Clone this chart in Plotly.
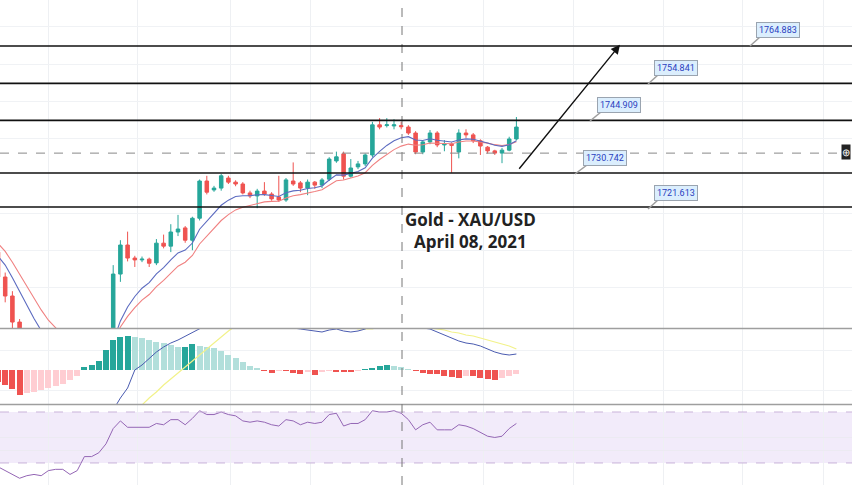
import plotly.graph_objects as go

W, H = 852, 485

opens = [1709.5,1702.8,1697.7,1690.7,1685.9,1682.0,1679.5,1677.0,1676.0,1677.5,1676.5,1678.0,1677.0,1679.0,1678.5,1680.0,
         1680.5,1703.6,1711.4,1707.9,1707.4,1707.6,1706.6,1711.9,1711.1,1714.9,1716.0,1712.7,1718.6,1728.6,1726.2,1726.7,
         1729.4,1728.3,1727.8,1725.4,1724.6,1725.9,1725.1,1724.3,1723.5,1728.6,1728.1,1726.7,1728.3,1727.5,1729.1,1734.0,
         1735.9,1729.9,1732.4,1733.2,1735.6,1743.7,1743.5,1743.4,1743.5,1743.1,1741.5,1736.4,1739.1,1741.5,1738.3,1738.5,
         1736.4,1741.5,1741.0,1739.4,1737.7,1736.7,1736.1,1736.9,1739.9]
closes = [1702.8,1697.7,1690.7,1685.9,1682.0,1679.5,1677.0,1676.0,1677.5,1676.5,1678.0,1677.0,1679.0,1678.5,1680.0,1680.5,
          1703.6,1711.4,1707.9,1707.4,1707.6,1706.5,1711.9,1711.1,1714.9,1715.7,1712.7,1718.6,1728.6,1725.6,1726.7,1730.0,
          1728.3,1727.8,1725.4,1724.6,1725.9,1725.1,1723.8,1723.5,1728.9,1727.8,1726.7,1728.3,1727.5,1728.9,1734.5,1735.1,
          1729.9,1732.1,1733.2,1735.6,1743.7,1743.1,1743.7,1743.7,1743.2,1741.5,1736.4,1739.1,1741.5,1738.3,1738.5,1738.2,
          1741.5,1741.0,1739.4,1738.0,1736.7,1736.1,1736.9,1739.9,1743.1]
highs = [1710.5,1704.0,1699.0,1691.5,1687.0,1683.0,1680.5,1678.0,1678.5,1678.5,1679.0,1679.0,1680.0,1680.0,1681.0,1681.5,
         1706.0,1712.7,1715.0,1708.5,1708.3,1708.0,1713.0,1714.2,1717.0,1719.5,1716.5,1719.0,1729.0,1730.0,1727.3,1730.5,
         1730.0,1728.8,1728.3,1726.0,1726.5,1728.3,1725.6,1730.0,1729.4,1733.6,1728.6,1729.0,1728.6,1729.4,1735.0,1736.5,
         1736.5,1734.5,1734.0,1736.0,1744.5,1745.5,1745.5,1745.2,1744.5,1743.6,1742.0,1739.5,1742.3,1742.0,1739.6,1739.0,
         1742.5,1742.5,1741.5,1739.8,1738.0,1737.0,1737.5,1740.5,1745.8]
lows = [1701.5,1696.0,1689.0,1685.0,1681.0,1678.5,1676.0,1675.0,1675.0,1675.5,1675.5,1676.0,1676.0,1677.5,1677.5,1679.0,
        1679.0,1701.5,1707.0,1705.5,1706.8,1705.5,1706.0,1710.5,1709.5,1713.8,1712.0,1710.0,1718.0,1725.0,1725.7,1726.0,
        1727.8,1727.2,1725.0,1724.0,1721.3,1724.6,1723.3,1723.0,1723.0,1727.3,1725.6,1724.8,1726.5,1726.7,1728.6,1733.5,
        1729.0,1729.5,1731.8,1732.6,1735.0,1742.5,1743.0,1742.5,1742.5,1741.0,1735.8,1735.8,1738.5,1737.7,1736.6,1730.8,
        1734.7,1740.2,1738.8,1735.6,1736.0,1735.6,1733.4,1736.6,1739.5]

macd_hist = [-12,-15,-19,-25,-23,-22,-20,-18,-16,-14,-10,-6,3,5,9,20,30,33,34,33,32,30,28,27,25,23,23,26,24,23,22,19,15,12,8,4,2,
             -1,-3,-1,-1,-3,-4,-2,-5,-2,-1,-2,-2,-2,-1,1,2,4,5,4,3,1,-1,-3,-4,-4,-6,-7,-8,-6,-6,-8,-9,-10,-8,-6,-4]
macd_line = [-80,-85,-90,-95,-100,-100,-98,-95,-90,-85,-80,-75,-70,-62,-55,-45,-40,-28,-18,0,5,12,18,23,27,30,34,38,42,45,48,50,
             52,53,53,52,51,50,48,46,44,42,41,40,39,38,40,41,39,38,39,41,45,48,50,50,49,47,44,42,41,38,35,32,29,27,26,24,21,18,16,15,16]
signal_line = [-60,-65,-70,-74,-78,-80,-82,-83,-83,-82,-80,-78,-75,-72,-68,-63,-58,-52,-46,-40,-35,-28,-22,-15,-9,-3,3,9,15,21,27,33,
               39,44,48,52,53,54,54,54,53,52,51,50,49,48,47,46,45,44,41,41,41,44,45,45,45,44,44,43,42,41,40,38,37,35,34,32,30,28,26,24,21]
rsi = [27,24,21,18,20,21,20,24,25,25,21,24,35,35,38,45,57,63,58,58,58,58,61,60,64,64,60,65,71,68,68,70,68,67,63,62,63,62,60,59,
       64,63,60,62,61,62,68,69,59,61,61,64,71,70,70,71,69,64,56,60,62,56,56,56,60,59,57,54,51,50,51,57,61]
levels = [1764.883, 1754.841, 1744.909, 1730.742, 1721.613]
level_labels = ["1764.883", "1754.841", "1744.909", "1730.742", "1721.613"]
title_lines = ["Gold - XAU/USD", "April 08, 2021"]

idx = list(range(len(closes)))

def ema(vals, n, seed):
    k = 2 / (n + 1)
    out, e = [], seed
    for v in vals:
        e = e + k * (v - e)
        out.append(e)
    return out

ema_fast = ema(closes, 8, 1710.0)
ema_slow = ema(closes, 12, 1713.5)

hist_colors = []
for i, v in enumerate(macd_hist):
    p = macd_hist[i - 1] if i else v
    if v >= 0:
        hist_colors.append("#26a69a" if v >= p else "#b2dfdb")
    else:
        hist_colors.append("#ef5350" if v <= p else "#ffcdd2")

def px2i(x):
    return (x + 2) / 7.2

fig = go.Figure()
fig.add_trace(go.Candlestick(x=idx, open=opens, high=highs, low=lows, close=closes,
                             increasing=dict(line=dict(color="#26a69a", width=1), fillcolor="#26a69a"),
                             decreasing=dict(line=dict(color="#ef5350", width=1), fillcolor="#ef5350"),
                             whiskerwidth=0, xaxis="x", yaxis="y", showlegend=False))
fig.add_trace(go.Scatter(x=idx, y=ema_slow, mode="lines", line=dict(color="#f08080", width=1.1), xaxis="x", yaxis="y", showlegend=False))
fig.add_trace(go.Scatter(x=idx, y=ema_fast, mode="lines", line=dict(color="#5c6bc0", width=1.1), xaxis="x", yaxis="y", showlegend=False))

fig.add_trace(go.Bar(x=idx, y=macd_hist, marker=dict(color=hist_colors, line=dict(width=0)), width=0.82,
                     xaxis="x", yaxis="y2", showlegend=False))
fig.add_trace(go.Scatter(x=idx, y=signal_line, mode="lines", line=dict(color="#f2f28a", width=1.2), xaxis="x", yaxis="y2", showlegend=False))
fig.add_trace(go.Scatter(x=idx, y=macd_line, mode="lines", line=dict(color="#4a5bb0", width=1), xaxis="x", yaxis="y2", showlegend=False))

fig.add_trace(go.Scatter(x=idx, y=rsi, mode="lines", line=dict(color="#9466b5", width=1), xaxis="x", yaxis="y3", showlegend=False))

xr = [px2i(0), px2i(W)]
gridx = [px2i(v) for v in (48, 137, 230, 310, 483, 573, 663, 742, 823)]

shapes = []
shapes.append(dict(type="rect", xref="paper", yref="y3", x0=0, x1=1, y0=30, y1=70,
                   fillcolor="rgba(156,102,220,0.13)", line=dict(width=0), layer="below"))
for lv in (30, 70):
    shapes.append(dict(type="line", xref="paper", yref="y3", x0=0, x1=1, y0=lv, y1=lv,
                       line=dict(color="#c9b3d9", width=1, dash="dash")))
for py in (328.5, 404.5):
    shapes.append(dict(type="line", xref="paper", yref="paper", x0=0, x1=1, y0=1 - py / H, y1=1 - py / H,
                       line=dict(color="#9e9e9e", width=1.5)))
shapes.append(dict(type="line", xref="paper", yref="paper", x0=402 / W, x1=402 / W, y0=0, y1=1,
                   line=dict(color="#777", width=1, dash="dash")))
shapes.append(dict(type="line", xref="paper", yref="y", x0=0, x1=838 / W, y0=1736.1, y1=1736.1,
                   line=dict(color="#888", width=1, dash="dash")))
for lv in levels:
    shapes.append(dict(type="line", xref="paper", yref="y", x0=0, x1=1, y0=lv, y1=lv,
                       line=dict(color="#111", width=1.6)))

label_boxes = [(778, 30, 750), (676, 68, 648), (619, 105, 590), (605, 158, 575), (676, 193, 648)]
annotations = []
for (cx, cy, lx), lv, txt in zip(label_boxes, levels, level_labels):
    shapes.append(dict(type="line", xref="paper", yref="paper", x0=(cx - 18) / W, y0=1 - (cy + 7) / H,
                       x1=lx / W, y1=1 - (cy + 16) / H, line=dict(color="#9e9e9e", width=1.5)))
    annotations.append(dict(x=cx / W, y=1 - cy / H, xref="paper", yref="paper", text=txt, showarrow=False,
                            xanchor="center", yanchor="middle",
                            font=dict(size=9, color="#2a3ebf", family="Roboto"), bgcolor="#dbeefd",
                            bordercolor="#9aa4b0", borderwidth=1, borderpad=2))

annotations.append(dict(x=px2i(620), y=1765.2, ax=px2i(518), ay=1731.5, xref="x", yref="y", axref="x", ayref="y",
                        text="", showarrow=True, arrowhead=2, arrowsize=1.3, arrowwidth=1.4, arrowcolor="#111"))
annotations.append(dict(x=470 / W, y=1 - 230 / H, xref="paper", yref="paper", xanchor="center", yanchor="middle",
                        text="<b>" + title_lines[0] + "</b><br><b>" + title_lines[1] + "</b>", showarrow=False,
                        font=dict(size=17, color="#222", family="Open Sans"), align="center"))
annotations.append(dict(x=846 / W, y=1 - 152 / H, xref="paper", yref="paper", text="⊕", showarrow=False,
                        xanchor="center", yanchor="middle",
                        font=dict(size=10, color="white"), bgcolor="#222", borderpad=0))

fig.update_layout(
    width=W, height=H, margin=dict(l=0, r=0, t=0, b=0),
    paper_bgcolor="white", plot_bgcolor="white", showlegend=False, bargap=0,
    xaxis=dict(range=xr, domain=[0, 1], anchor="y3", tickvals=gridx, showticklabels=False, ticks="",
               showgrid=True, gridcolor="#eef0f3", zeroline=False, rangeslider=dict(visible=False), fixedrange=True),
    yaxis=dict(domain=[1 - 328 / H, 1], range=[1689.1, 1777.25], showticklabels=False, ticks="",
               tickvals=[1700, 1710, 1720, 1740, 1750, 1760, 1770], gridcolor="#f0f2f5", zeroline=False),
    yaxis2=dict(domain=[1 - 404 / H, 1 - 329 / H], range=[-34, 41], showticklabels=False, ticks="",
                tickvals=[-20, 20], gridcolor="#f0f2f5", zeroline=False),
    yaxis3=dict(domain=[0, 1 - 405 / H], range=[12.7, 75.5], showticklabels=False, ticks="",
                tickvals=[50, 40], gridcolor="#eceaf2", zeroline=False),
    shapes=shapes, annotations=annotations,
)
fig.write_html("out.html", config={"displayModeBar": False, "staticPlot": True})
with open("out.html", encoding="utf-8") as f:
    html = f.read()
html = html.replace("<head>", "<head><style>html,body{margin:0;padding:0;overflow:hidden;}</style>", 1)
with open("out.html", "w", encoding="utf-8") as f:
    f.write(html)
